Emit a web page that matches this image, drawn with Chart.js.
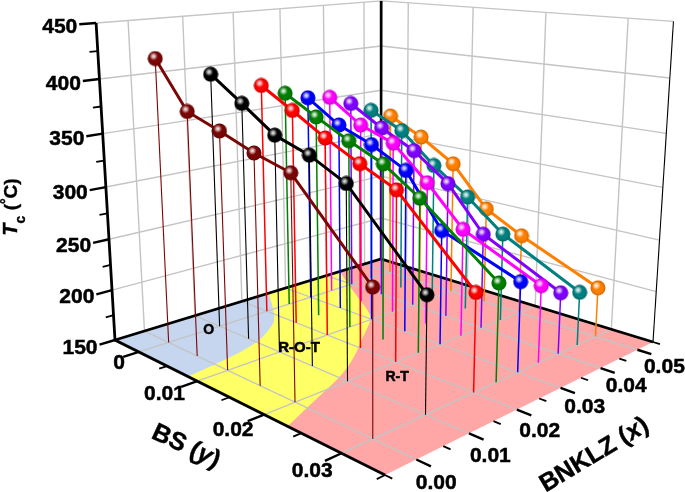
<!DOCTYPE html>
<html>
<head>
<meta charset="utf-8">
<style>body{margin:0;background:#fff}canvas{display:block}</style>
<script src="https://cdn.jsdelivr.net/npm/chart.js@4"></script>
</head>
<body>
<canvas id="chart" width="685" height="492"></canvas>
<script>
// compositions
const bnklzValues = [0, 0.01, 0.02, 0.025, 0.03, 0.035, 0.04, 0.045, 0.05];
const bsValues = [0, 0.005, 0.01, 0.015, 0.02, 0.03];

// Tc for each BNKLZ value, one entry per BS value
const tcMaroon = [419, 377, 366, 354, 345, 273];
const tcBlack = [399, 377, 354, 343, 326, 252];
const tcRed = [382, 363, 343, 326, 310, 239];
const tcGreen = [371, 353, 336, 321, 297, 240];
const tcBlue = [363, 341, 328, 310, 261, 234];
const tcMagenta = [360, 337, 325, 293, 256, 223];
const tcPurple = [350, 330, 313, 287, 245, 209];
const tcTeal = [339, 323, 293, 268, 239, 202];
const tcOrange = [329, 312, 290, 250, 231, 199];
const tcSeries = [tcMaroon, tcBlack, tcRed, tcGreen, tcBlue, tcMagenta, tcPurple, tcTeal, tcOrange];
const seriesColors = ["#7b0606", "#000000", "#ff0000", "#008000", "#0000ff", "#ff00ff", "#8000ff", "#008080", "#ff8000"];

// axis ticks
const tcTicks = [150, 200, 250, 300, 350, 400, 450];
const tcMinorTicks = [175, 225, 275, 325, 375, 425];
const xTicks = [0, 0.01, 0.02, 0.03, 0.04, 0.05];
const xMinorTicks = [-0.0055, 0.005, 0.015, 0.025, 0.035, 0.045, 0.0545];
const yTicks = [0, 0.01, 0.02, 0.03];
const yMinorTicks = [0.005, 0.015, 0.025, 0.035];

// phase boundaries on the floor, as [BNKLZ, BS]
const orthoEdge = [[0.026, -0.0045], [0.0193, 0.0023], [0.0147, 0.0046], [0.01, 0.0065], [0.0019, 0.0079], [-0.0055, 0.0085]];
const rotEdge = [[0.0435, -0.0045], [0.0397, -0.0006], [0.032, 0.0084], [0.0296, 0.0102], [0.0233, 0.0131], [0.0183, 0.0156], [0.0114, 0.0185], [0.0029, 0.0208], [-0.0055, 0.0232]];

// axis ranges
const xMin = -0.0055, xMax = 0.0545, yMin = -0.0045, yMax = 0.035, tMin = 150, tMax = 450;

// perspective of the box: floor corners on the page, then where the verticals meet
const cornerLeft = [115, 340], cornerBack = [381, 259], cornerRight = [653, 342], cornerFront = [385, 475];
const vanish = [375, 4700];

function squareToQuad(a, b, c, d) {
  const dx1 = b[0] - c[0], dx2 = d[0] - c[0], sx = a[0] - b[0] + c[0] - d[0];
  const dy1 = b[1] - c[1], dy2 = d[1] - c[1], sy = a[1] - b[1] + c[1] - d[1];
  const den = dx1 * dy2 - dx2 * dy1;
  const g = (sx * dy2 - dx2 * sy) / den, h = (dx1 * sy - sx * dy1) / den;
  return [b[0] - a[0] + g * b[0], d[0] - a[0] + h * d[0], a[0], b[1] - a[1] + g * b[1], d[1] - a[1] + h * d[1], a[1], g, h, 1];
}
const H = squareToQuad(cornerLeft, cornerBack, cornerRight, cornerFront);
const kz = (cornerLeft[1] - 23) / (23 - vanish[1]);

// data coordinates -> point for the chart's page-sized x and y scales
function project(x, y, t) {
  const u = (x - xMin) / (xMax - xMin), v = (y - yMin) / (yMax - yMin), s = (t - tMin) / (tMax - tMin);
  const X = H[0] * u + H[1] * v + H[2] + s * kz * vanish[0];
  const Y = H[3] * u + H[4] * v + H[5] + s * kz * vanish[1];
  const W = H[6] * u + H[7] * v + H[8] + s * kz;
  return { x: X / W, y: Y / W };
}

// shiny ball used as the point style
function makeBall(color, r) {
  const c = document.createElement("canvas");
  c.width = c.height = Math.ceil(r * 2) + 1;
  const g = c.getContext("2d");
  const m = c.width / 2;
  g.fillStyle = color;
  g.beginPath();
  g.arc(m, m, r, 0, Math.PI * 2);
  g.fill();
  // dark rim
  const rim = g.createRadialGradient(m, m, r * 0.6, m, m, r);
  rim.addColorStop(0, "rgba(0,0,0,0)");
  rim.addColorStop(1, "rgba(0,0,0,0.18)");
  g.fillStyle = rim;
  g.fill();
  // highlight
  const hx = m - r * 0.22, hy = m - r * 0.3;
  const spot = g.createRadialGradient(hx, hy, 0, hx, hy, r * 0.55);
  spot.addColorStop(0, "rgba(255,255,255,0.95)");
  spot.addColorStop(0.35, "rgba(255,255,255,0.7)");
  spot.addColorStop(1, "rgba(255,255,255,0)");
  g.fillStyle = spot;
  g.fill();
  return c;
}

const datasets = [];
function addLine(points, color, width, order) {
  datasets.push({ data: points, showLine: true, borderColor: color, borderWidth: width, pointRadius: 0, order: order, tension: 0, fill: false, borderCapStyle: "butt" });
}

// wall and floor grid
const gridColor = "#c4c4c4";
tcTicks.slice(1).forEach(t => {
  addLine([project(xMin, yMin, t), project(xMax, yMin, t), project(xMax, yMax, t)], gridColor, 1.4, 200);
});
xTicks.forEach(x => {
  addLine([project(x, yMin, tMax), project(x, yMin, tMin), project(x, yMax, tMin)], gridColor, 1.4, 200);
});
yTicks.forEach(y => {
  addLine([project(xMax, y, tMax), project(xMax, y, tMin), project(xMin, y, tMin)], gridColor, 1.4, 200);
});

// box edges
addLine([project(xMin, yMin, tMax), project(xMin, yMin, tMin), project(xMin, yMax, tMin)], "#000", 2.8, 150);
addLine([project(xMin, yMin, tMin), project(xMax, yMin, tMin), project(xMax, yMax, tMin)], "#000", 2.8, 150);
addLine([project(xMax, yMin, tMax), project(xMax, yMin, tMin)], "#000", 2.4, 150);
addLine([project(xMax, yMax, tMax), project(xMax, yMax, tMin)], "#000", 1.1, 150);

// tick marks
tcTicks.forEach(t => addLine([project(xMin, yMin, t), project(xMin - 0.0028, yMin, t)], "#000", 2.4, 150));
tcMinorTicks.forEach(t => addLine([project(xMin, yMin, t), project(xMin - 0.0014, yMin, t)], "#000", 1.8, 150));
yTicks.forEach(y => addLine([project(xMin, y, tMin), project(xMin - 0.0028, y, tMin)], "#000", 2.4, 150));
yMinorTicks.forEach(y => addLine([project(xMin, y, tMin), project(xMin - 0.0014, y, tMin)], "#000", 1.8, 150));
xTicks.forEach(x => addLine([project(x, yMax, tMin), project(x, yMax + 0.0016, tMin)], "#000", 2.4, 150));
xMinorTicks.forEach(x => addLine([project(x, yMax, tMin), project(x, yMax + 0.0008, tMin)], "#000", 1.8, 150));

// drop lines and the series themselves, front series on top
tcSeries.forEach((tc, i) => {
  const x = bnklzValues[i];
  const color = seriesColors[i];
  bsValues.forEach((y, j) => {
    addLine([project(x, y, tc[j]), project(x, y, tMin)], color, i < 2 ? 1.1 : 1.5, 2 * i + 2);
  });
  datasets.push({
    data: bsValues.map((y, j) => project(x, y, tc[j])),
    showLine: true, borderColor: color, borderWidth: 3, tension: 0, fill: false,
    pointStyle: makeBall(color, 7.5), pointRadius: 8, order: 2 * i + 1
  });
});

function text(ctx, str, x, y, font, align) {
  ctx.font = font;
  ctx.textAlign = align || "center";
  ctx.textBaseline = "middle";
  ctx.fillStyle = "#000";
  ctx.strokeStyle = "#000";
  ctx.lineWidth = 0.5;
  ctx.fillText(str, x, y);
  ctx.strokeText(str, x, y);
}

// runs of differently styled text along a rotated baseline
function runs(ctx, parts, cx, cy, angle) {
  ctx.save();
  ctx.translate(cx, cy);
  ctx.rotate(angle * Math.PI / 180);
  ctx.textAlign = "left";
  ctx.textBaseline = "alphabetic";
  ctx.fillStyle = "#000";
  ctx.strokeStyle = "#000";
  ctx.lineWidth = 0.4;
  let total = 0;
  parts.forEach(p => { ctx.font = p.font; total += ctx.measureText(p.s).width; });
  let pos = -total / 2;
  parts.forEach(p => {
    ctx.font = p.font;
    ctx.fillText(p.s, pos, p.dy || 0);
    ctx.strokeText(p.s, pos, p.dy || 0);
    pos += ctx.measureText(p.s).width;
  });
  ctx.restore();
}

const fam = '"Liberation Sans", Arial, sans-serif';

// floor colours go under the datasets, read through the chart's scales
const floorPlugin = {
  id: "floor",
  beforeDatasetsDraw(chart) {
    const { ctx, scales } = chart;
    const px = p => { const q = project(p[0], p[1], tMin); return [scales.x.getPixelForValue(q.x), scales.y.getPixelForValue(q.y)]; };
    function region(edge, color) {
      const pts = edge.map(px);
      ctx.beginPath();
      const c = px([xMin, yMin]);
      ctx.moveTo(c[0], c[1]);
      ctx.lineTo(pts[0][0], pts[0][1]);
      for (let i = 1; i < pts.length - 1; i++) {
        const mx = (pts[i][0] + pts[i + 1][0]) / 2, my = (pts[i][1] + pts[i + 1][1]) / 2;
        ctx.quadraticCurveTo(pts[i][0], pts[i][1], i === pts.length - 2 ? pts[i + 1][0] : mx, i === pts.length - 2 ? pts[i + 1][1] : my);
      }
      ctx.closePath();
      ctx.fillStyle = color;
      ctx.fill();
    }
    ctx.save();
    ctx.beginPath();
    [[xMin, yMin], [xMax, yMin], [xMax, yMax], [xMin, yMax]].map(px).forEach((p, i) => i ? ctx.lineTo(p[0], p[1]) : ctx.moveTo(p[0], p[1]));
    ctx.closePath();
    ctx.fillStyle = "#ffa6a6";
    ctx.fill();
    region(rotEdge, "#ffff66");
    region(orthoEdge, "#c5d6ee");
    ctx.restore();
  }
};

const labelPlugin = {
  id: "labels",
  afterDatasetsDraw(chart) {
    const { ctx } = chart;
    const bold = s => "bold " + s + "px " + fam;
    ctx.save();
    tcTicks.forEach(t => {
      const p = project(xMin - 0.0028, yMin, t);
      text(ctx, String(t), p.x - 2, p.y + 3, bold(21), "right");
    });
    yTicks.forEach(y => {
      const p = project(xMin, y, tMin);
      text(ctx, y === 0 ? "0" : y.toFixed(2), p.x - 14 + y * 170, p.y + 11 + y * 230, bold(21), "right");
    });
    xTicks.forEach(x => {
      const p = project(x, yMax, tMin);
      text(ctx, x.toFixed(2), p.x + 20 + x * 140, p.y + 24 - x * 140, bold(21), "center");
    });
    // phase names
    const o = project(0.0077, 0.0001, tMin), rot = project(0.0132, 0.0106, tMin), rt = project(0.0162, 0.0226, tMin);
    text(ctx, "O", o.x, o.y, bold(14));
    text(ctx, "R-O-T", rot.x, rot.y, bold(15));
    text(ctx, "R-T", rt.x, rt.y, bold(14));
    // axis titles
    const b = bold(25), bi = "italic " + b;
    runs(ctx, [{ s: "BS (", font: b }, { s: "y", font: bi }, { s: ")", font: b }], 183, 453, 25);
    runs(ctx, [{ s: "BNKLZ (", font: b }, { s: "x", font: bi }, { s: ")", font: b }], 598, 461, -31);
    runs(ctx, [
      { s: "T", font: "italic bold 20px " + fam },
      { s: "c", font: "bold 14px " + fam, dy: 8 },
      { s: " (", font: bold(19) },
      { s: "°", font: bold(14), dy: -6 },
      { s: "C)", font: bold(19) }
    ], 17, 207, -90);
    ctx.restore();
  }
};

new Chart(document.getElementById("chart"), {
  type: "scatter",
  data: { datasets: datasets },
  plugins: [floorPlugin, labelPlugin],
  options: {
    responsive: false,
    animation: false,
    devicePixelRatio: 1,
    layout: { padding: 0, autoPadding: false },
    plugins: { legend: { display: false }, tooltip: { enabled: false } },
    scales: {
      x: { type: "linear", min: 0, max: 685, display: false },
      y: { type: "linear", min: 0, max: 492, reverse: true, display: false }
    }
  }
});
</script>
</body>
</html>
